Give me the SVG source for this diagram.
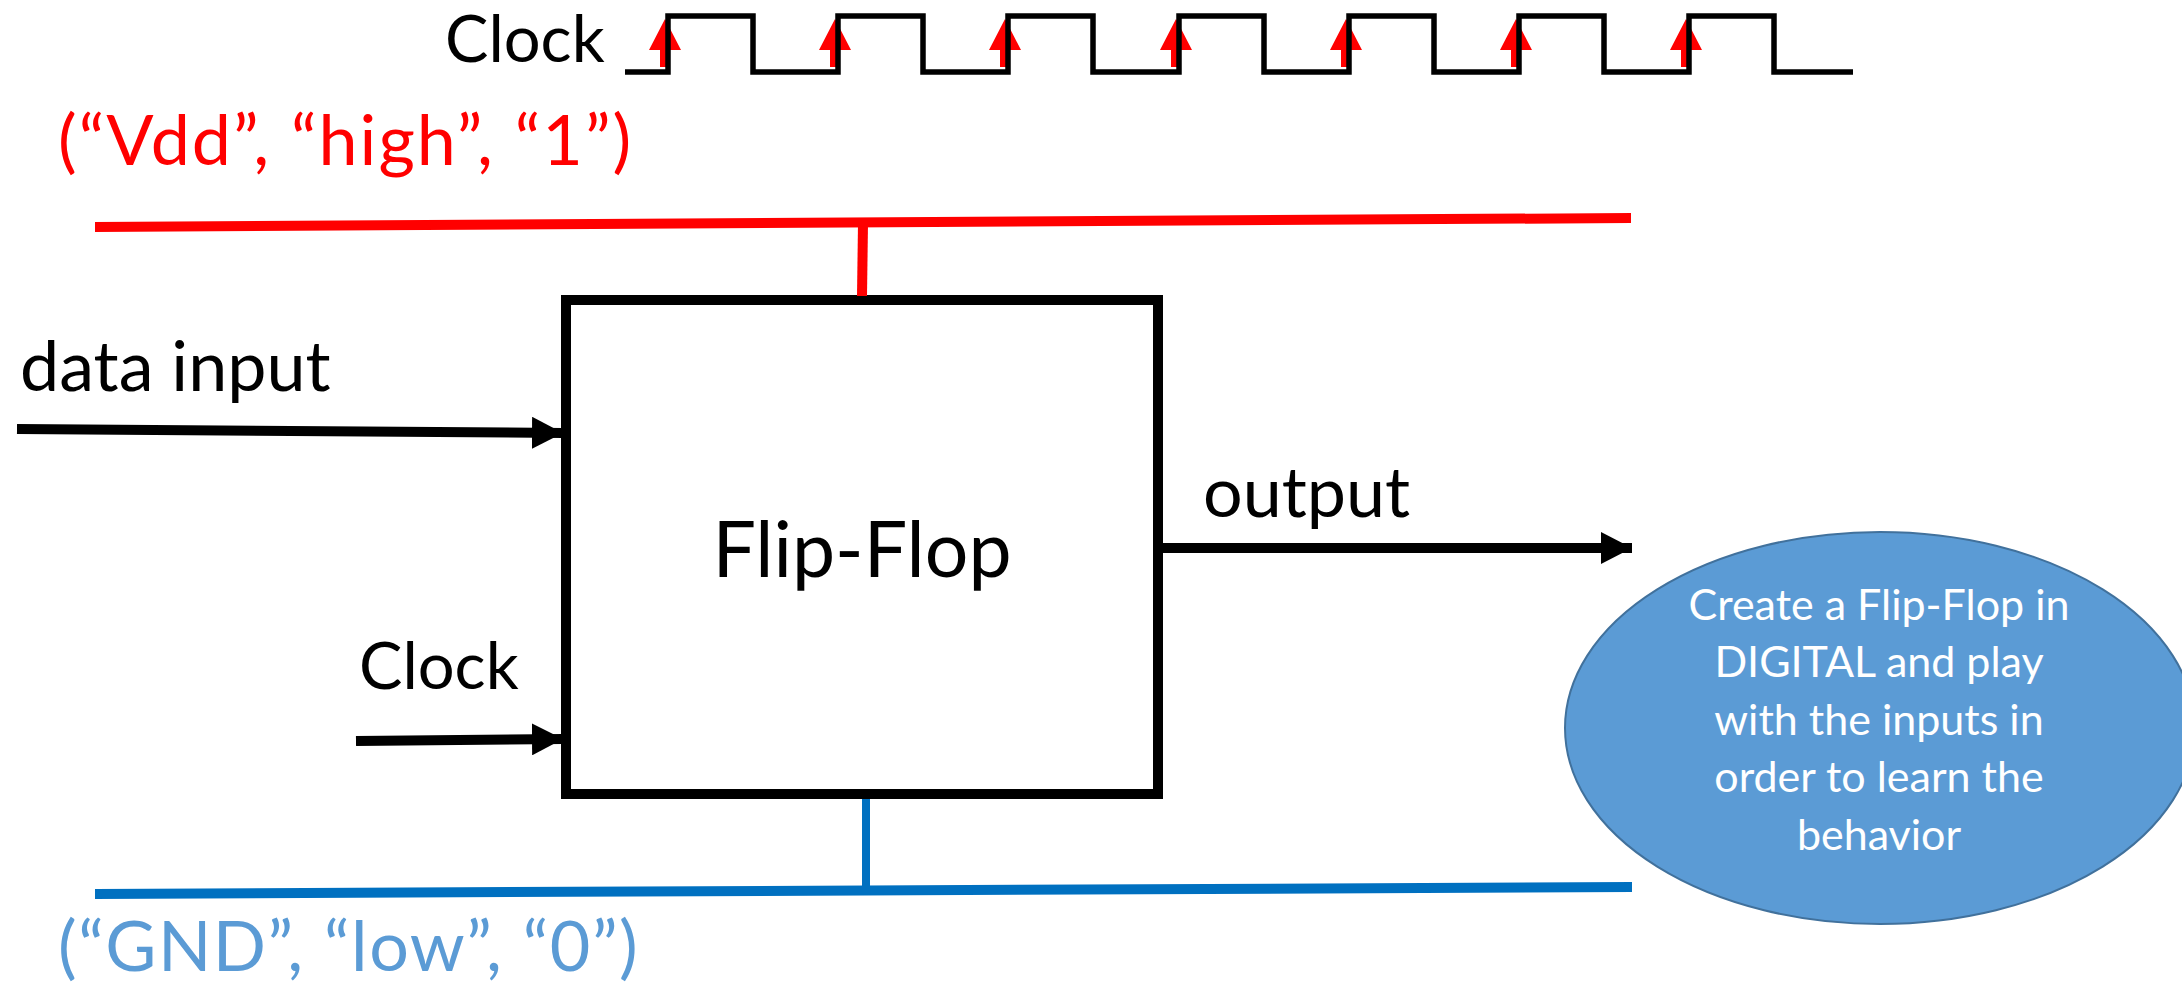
<svg xmlns="http://www.w3.org/2000/svg" width="2182" height="984" viewBox="0 0 2182 984">
<style>
.lbl{font-family:Lato,"Open Sans",sans-serif;font-size:65px;fill:#000}
.lblw{font-family:Lato,"Open Sans",sans-serif;font-size:70px;fill:#000}
.big{font-family:Lato,"Open Sans",sans-serif;font-size:77px;fill:#000}
.red{font-family:Lato,"Open Sans",sans-serif;font-size:70px;fill:#FF0000;letter-spacing:2px}
.blu{font-family:Lato,"Open Sans",sans-serif;font-size:70px;fill:#5B9BD5;letter-spacing:1.5px}
.note{font-family:Lato,"Open Sans",sans-serif;font-size:43px;fill:#fff;text-anchor:middle}
.wire{stroke:#000;stroke-width:10;fill:none}
.vdd{stroke:#FF0000;stroke-width:10;fill:none}
.gnd{stroke:#0070C0;stroke-width:10;fill:none}
.wave{stroke:#000;stroke-width:5.5;fill:none;stroke-linejoin:miter}
.edge{fill:#FF0000}
</style>
<defs>
<marker id="ah" markerUnits="userSpaceOnUse" markerWidth="32" markerHeight="32" viewBox="0 0 32 32" refX="31" refY="16" orient="auto">
<path d="M0,0 L31,16 L0,32 Z" fill="#000"/>
</marker>
<g id="edgeArrow"><path class="edge" d="M0,19 L16,50 L5,50 L5,67 L-5,67 L-5,50 L-16,50 Z"/></g>
</defs>
<rect width="2182" height="984" fill="#fff"/>

<g id="clock-signal">
<text class="lbl" x="445" y="62">Clock</text>
<use href="#edgeArrow" x="665" y="0"/>
<use href="#edgeArrow" x="835" y="0"/>
<use href="#edgeArrow" x="1005" y="0"/>
<use href="#edgeArrow" x="1176" y="0"/>
<use href="#edgeArrow" x="1346" y="0"/>
<use href="#edgeArrow" x="1516" y="0"/>
<use href="#edgeArrow" x="1686" y="0"/>
<path class="wave" d="M625,72 H668 V16 H753 V72 H838 V16 H923 V72 H1008 V16 H1093 V72 H1179 V16 H1264 V72 H1349 V16 H1434 V72 H1519 V16 H1604 V72 H1689 V16 H1774 V72 H1853"/>
</g>

<g id="vdd-rail">
<text class="red" x="58" y="165">(“Vdd”, “high”, “1”)</text>
<path class="vdd" d="M95,227 L1631,218"/>
</g>

<g id="gnd-rail">
<path class="gnd" d="M95,894 L1632,887"/>
<text class="blu" x="58" y="971">(“GND”, “low”, “0”)</text>
</g>

<g id="flipflop">
<rect x="566" y="300" width="592" height="494" fill="#fff" stroke="#000" stroke-width="10"/>
<text class="big" x="862" y="577" text-anchor="middle">Flip-Flop</text>
</g>

<g id="label-data">
<text class="lblw" x="20" y="391">data input</text>
</g>
<g id="label-clock">
<text class="lbl" x="359" y="689">Clock</text>
</g>
<g id="label-output">
<text class="lblw" x="1203" y="517">output</text>
</g>

<g id="note">
<ellipse cx="1880" cy="728" rx="315" ry="196" fill="#5B9BD5" stroke="#41719C" stroke-width="2"/>
<text class="note" x="1879" y="620">Create a Flip-Flop in</text>
<text class="note" x="1879" y="677">DIGITAL and play</text>
<text class="note" x="1879" y="735">with the inputs in</text>
<text class="note" x="1879" y="792">order to learn the</text>
<text class="note" x="1879" y="850">behavior</text>
</g>

<g id="connectors">
<path class="wire" d="M17,429 L563,433" marker-end="url(#ah)"/>
<path class="wire" d="M356,741 L563,739" marker-end="url(#ah)"/>
<path class="wire" d="M1163,548 L1632,548" marker-end="url(#ah)"/>
<path class="vdd" d="M863,223 L862,296"/>
<path stroke="#0070C0" stroke-width="8" fill="none" d="M866,799 L866,891"/>
</g>
</svg>
